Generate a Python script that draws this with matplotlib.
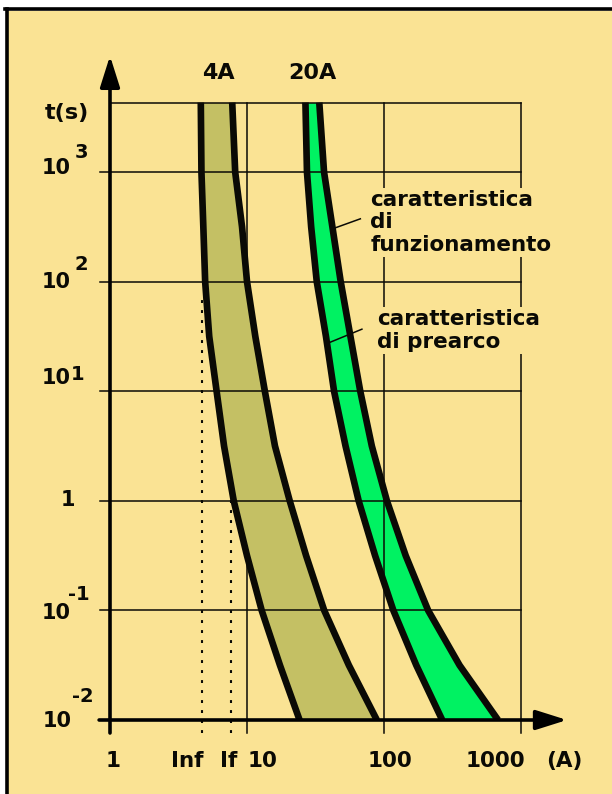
import matplotlib
matplotlib.use("Agg")
import matplotlib.pyplot as plt
from matplotlib.lines import Line2D
from matplotlib.patches import Rectangle

# time points (s) at which the curves are read
t_pts = [4300, 1000, 316, 100, 31.6, 10, 3.16, 1, 0.316, 0.1, 0.0316, 0.01]

# current (A) of each characteristic at those times
pre_4a = [4.6, 4.65, 4.8, 4.95, 5.3, 6.0, 6.8, 8.0, 10.0, 12.8, 17.4, 24.2]
fun_4a = [7.8, 8.2, 9.2, 10.0, 11.5, 13.5, 16.0, 20.5, 27.0, 36.6, 55.4, 88.7]
pre_20a = [26.7, 27.4, 29.4, 32.3, 37.7, 43.2, 52.4, 65.3, 86.1, 117, 172, 266]
fun_20a = [33.7, 36.5, 42.0, 48.3, 56.9, 67.1, 81.5, 105, 144, 210, 356, 680]

i_nf = 4.7   # conventional non-fusing current
i_f = 7.7    # conventional fusing current

grid_t = [0.1, 1, 10, 100, 1000]
grid_i = [10, 100, 1000]
t_top = 4300

BG = "#FAE394"
OLIVE = "#C4C064"
GREEN = "#00F262"
INK = "#0a0a05"

fig = plt.figure(figsize=(6.12, 7.94), dpi=100, facecolor="white")
W, H = 612, 794

# panel with black frame on top and left
fig.patches.append(Rectangle((8 / W, 0), 1, (H - 11) / H, transform=fig.transFigure,
                             facecolor=BG, edgecolor="none", zorder=-1))
fig.add_artist(Line2D([5 / W, 1], [1 - 9 / H, 1 - 9 / H], color="black", lw=2.6))
fig.add_artist(Line2D([6.5 / W, 6.5 / W], [0, 1 - 9 / H], color="black", lw=2.6))

PX_X = 137.0   # pixels per decade of current
PX_Y = 109.6   # pixels per decade of time
ax = fig.add_axes([110 / W, 74 / H, 3.4 * PX_X / W, 6.2 * PX_Y / H])
ax.set_xscale("log")
ax.set_yscale("log")
ax.set_xlim(1, 10 ** 3.4)
ax.set_ylim(0.01, 10 ** 4.2)
ax.axis("off")

y_below = 10 ** (-2 - 13 / PX_Y)
x_left = 10 ** (-10 / PX_X)

# grid
for t in grid_t:
    ax.plot([x_left, 1000], [t, t], color=INK, lw=1.1, zorder=3, clip_on=False)
ax.plot([1, 1000], [t_top, t_top], color=INK, lw=1.1, zorder=3)
for i in grid_i:
    ax.plot([i, i], [y_below, t_top], color=INK, lw=1.1,
            zorder=1 if i == 10 else 3, clip_on=False)

# Inf / If markers
ax.plot([i_nf, i_nf], [y_below, 76], color=INK, lw=1.5, ls=(0, (1.4, 3.4)),
        zorder=1, clip_on=False)
ax.plot([i_f, i_f], [y_below, 1550], color=INK, lw=1.5, ls=(0, (1.4, 3.4)),
        zorder=1, clip_on=False)

# fuse bands
ax.fill_betweenx(t_pts, pre_4a, fun_4a, color=OLIVE, lw=0, zorder=2)
ax.fill_betweenx(t_pts, pre_20a, fun_20a, color=GREEN, lw=0, zorder=2)
for curve in (pre_4a, fun_4a, pre_20a, fun_20a):
    ax.plot(curve, t_pts, color=INK, lw=4.8, solid_capstyle="butt",
            solid_joinstyle="round", zorder=4)

# axes with arrows
arrow = dict(arrowstyle="-|>,head_length=1.9,head_width=0.6", color="black",
             lw=2.6, shrinkA=0, shrinkB=0)
ax.annotate("", xy=(1, 10 ** 4.06), xytext=(1, y_below), arrowprops=arrow,
            annotation_clip=False, zorder=6)
ax.annotate("", xy=(10 ** 3.336, 0.01), xytext=(x_left * 0.985, 0.01),
            arrowprops=arrow, annotation_clip=False, zorder=6)

txt = dict(fontfamily="DejaVu Sans", fontweight="bold", color=INK,
           textcoords="offset pixels", ha="center", va="center",
           annotation_clip=False)

# time labels: (gridline, base text, base offset, exponent, exponent offset)
y_labels = [
    (1000, "10", (-54, 4), "3", (-29, 20)),
    (100, "10", (-54, 0), "2", (-29, 17)),
    (10, "10", (-54, 13), "1", (-32, 17)),
    (1, "1", (-42, 1), None, None),
    (0.1, "10", (-54, -3), "-1", (-31, 16)),
    (0.01, "10", (-53, -1), "-2", (-27, 23)),
]
for t, base, off, exp, exp_off in y_labels:
    ax.annotate(base, xy=(1, t), xytext=off, fontsize=15, **txt)
    if exp:
        ax.annotate(exp, xy=(1, t), xytext=exp_off, fontsize=14, **txt)
ax.annotate("t(s)", xy=(1, t_top), xytext=(-43, -10), fontsize=16, **txt)

# current labels
x_labels = [(1, "1", 3), (i_nf, "Inf", -15), (i_f, "If", -3), (10, "10", 15),
            (100, "100", 6), (1000, "1000", -26), (1000, "(A)", 43)]
for i, s, dx in x_labels:
    ax.annotate(s, xy=(i, 0.01), xytext=(dx, -41), fontsize=15.5, **txt)

ax.annotate("4A", xy=(6.2, t_top), xytext=(0, 30), fontsize=16, **txt)
ax.annotate("20A", xy=(29.9, t_top), xytext=(0, 30), fontsize=16, **txt)

# curve call-outs
box = dict(facecolor=BG, edgecolor="none", pad=1.5)
ax.text(79.3, 690, "caratteristica\ndi\nfunzionamento", fontsize=15.5,
        fontweight="bold", color=INK, ha="left", va="top", linespacing=1.17,
        bbox=box, zorder=5)
ax.text(89, 56, "caratteristica\ndi prearco", fontsize=15.5,
        fontweight="bold", color=INK, ha="left", va="top", linespacing=1.17,
        bbox=box, zorder=5)
ax.plot([42.1, 67.2], [303, 374], color=INK, lw=1.1, zorder=5)
ax.plot([39.7, 69.0], [27.7, 36.8], color=INK, lw=1.1, zorder=5)

fig.savefig("out.png", dpi=100, facecolor="white")
